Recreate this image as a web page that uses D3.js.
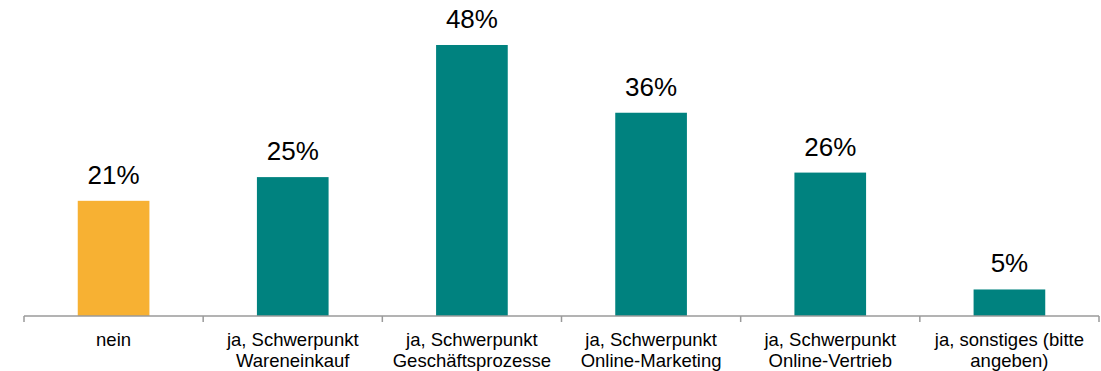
<!DOCTYPE html>
<html><head><meta charset="utf-8">
<script src="https://cdn.jsdelivr.net/npm/d3@7"></script>
<style>body{margin:0;background:#fff}svg{display:block}</style>
</head><body><svg id="c" width="1101" height="371"></svg>
<script>
const categories = [["nein"],["ja, Schwerpunkt","Wareneinkauf"],["ja, Schwerpunkt","Geschäftsprozesse"],["ja, Schwerpunkt","Online-Marketing"],["ja, Schwerpunkt","Online-Vertrieb"],["ja, sonstiges (bitte","angeben)"]];
const values = [20.4, 24.6, 48.0, 36.0, 25.4, 4.7];
const valueLabels = ["21%","25%","48%","36%","26%","5%"];
const colors = ["#F7B133","#00827F","#00827F","#00827F","#00827F","#00827F"];

const svg = d3.select("#c");
const x0 = 24, x1 = 1099, base = 316;
const x = d3.scaleBand().domain(d3.range(categories.length)).range([x0, x1]).paddingInner(0.6).paddingOuter(0.3);
const y = d3.scaleLinear().domain([0, 50]).range([base, base - 5.646*50]);

svg.selectAll("rect.bar").data(values).join("rect")
  .attr("x",(d,i)=>x(i)).attr("width",x.bandwidth())
  .attr("y",d=>y(d)).attr("height",d=>base-y(d))
  .attr("fill",(d,i)=>colors[i]);

svg.selectAll("text.val").data(values).join("text")
  .attr("x",(d,i)=>x(i)+x.bandwidth()/2).attr("y",d=>y(d)-17)
  .attr("text-anchor","middle").attr("font-family","Liberation Sans, Arial, sans-serif")
  .attr("font-size",26).attr("fill","#000").text((d,i)=>valueLabels[i]);

// axis
const step = (x1-x0)/categories.length;
const g = svg.append("g");
g.append("line").attr("x1",x0).attr("x2",x1).attr("y1",base).attr("y2",base).attr("stroke","#9a9a9a").attr("stroke-width",1.5);
d3.range(categories.length+1).forEach(i=>{
  g.append("line").attr("x1",x0+i*step).attr("x2",x0+i*step).attr("y1",base).attr("y2",base+6).attr("stroke","#9a9a9a").attr("stroke-width",1.5);
});
categories.forEach((lines,i)=>{
  const t = svg.append("text").attr("text-anchor","middle").attr("font-family","Liberation Sans, Arial, sans-serif")
    .attr("font-size",18.5).attr("fill","#000");
  lines.forEach((l,j)=>{
    t.append("tspan").attr("x",x(i)+x.bandwidth()/2).attr("y",346+j*20.5).text(l);
  });
});
</script></body></html>
